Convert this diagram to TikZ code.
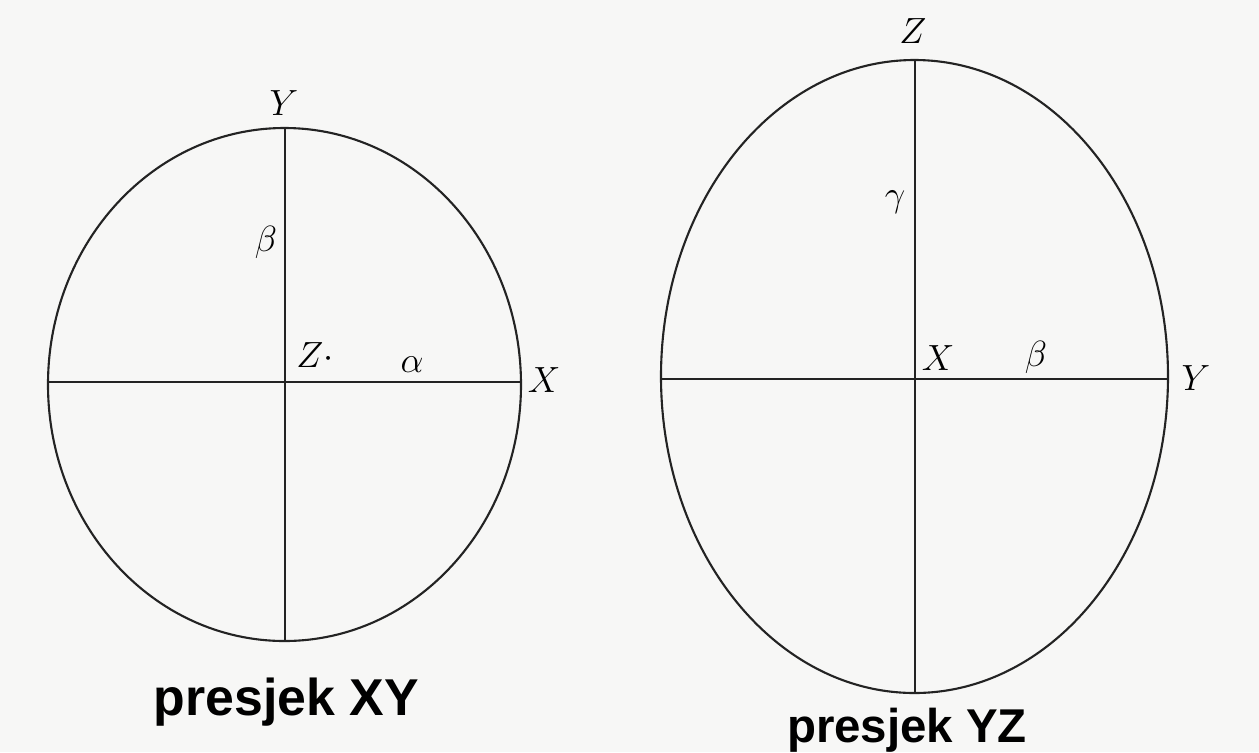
\documentclass[tikz,border=0pt]{standalone}
\usepackage{fontspec}
\newfontfamily\captionfont{Liberation Sans}
\definecolor{paper}{RGB}{247,247,246}
\definecolor{ink}{RGB}{35,35,35}
\begin{document}
\begin{tikzpicture}[x=0.02cm,y=-0.02cm,
  axis/.style={ink,line width=1.2pt},
  lbl/.style={anchor=base,inner sep=0pt,font=\fontsize{21}{25}\selectfont},
  caption/.style={anchor=base,inner sep=0pt,font=\captionfont\bfseries\fontsize{29.5}{33}\selectfont}]
\fill[paper] (0,0) rectangle (1259,752);
% presjek XY
\draw[axis] (284.5,384.5) ellipse [x radius=236.5, y radius=256.5];
\coordinate (xyW) at (48,382);
\coordinate (xyE) at (521,382);
\coordinate (xyN) at (285,128);
\coordinate (xyS) at (285,641);
\draw[axis] (xyW) -- (xyE);
\draw[axis] (xyN) -- (xyS);
\node[lbl] (xyY) at (284,115) {$Y$};
\node[lbl] (xyBeta) at (266,251) {$\beta$};
\node[lbl,anchor=base west] (xyZ) at (296,367) {$Z{\cdot}$};
\node[lbl] (xyAlpha) at (412,372) {$\alpha$};
\node[lbl] (xyX) at (544,392) {$X$};
\node[caption] (xyCap) at (286.5,715) {presjek XY};
% presjek YZ
\draw[axis] (914.5,376.5) ellipse [x radius=253.5, y radius=316.5];
\coordinate (yzW) at (661,379);
\coordinate (yzE) at (1168,379);
\coordinate (yzN) at (915,60);
\coordinate (yzS) at (915,693);
\draw[axis] (yzW) -- (yzE);
\draw[axis] (yzN) -- (yzS);
\node[lbl] (yzZ) at (913,43) {$Z$};
\node[lbl] (yzGamma) at (895,206) {$\gamma$};
\node[lbl] (yzX) at (938,370) {$X$};
\node[lbl] (yzBeta) at (1036,366) {$\beta$};
\node[lbl] (yzY) at (1196,390) {$Y$};
\node[caption,font=\captionfont\bfseries\fontsize{27}{31}\selectfont] (yzCap) at (907,742) {presjek YZ};
\end{tikzpicture}
\end{document}
